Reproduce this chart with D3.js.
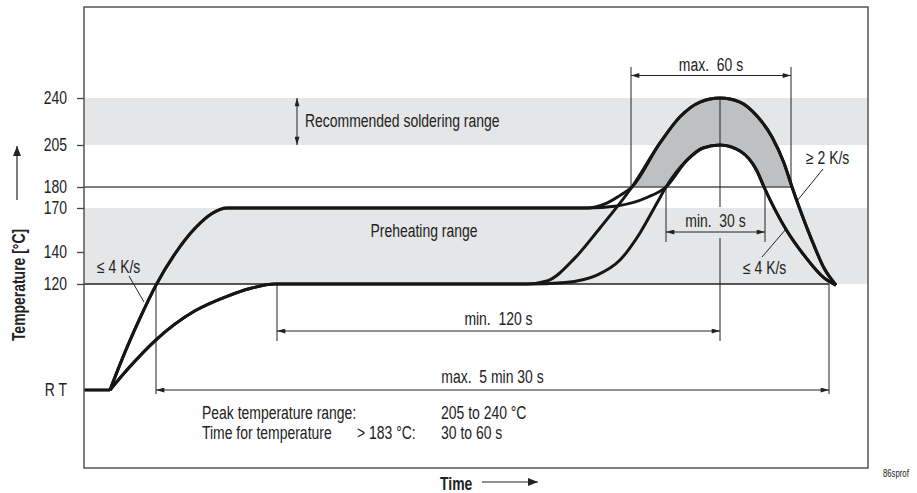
<!doctype html>
<html lang="en">
<head>
<meta charset="utf-8">
<title>Reflow soldering temperature profile</title>
<script src="https://cdn.jsdelivr.net/npm/d3@7"></script>
<style>
  body{margin:0;background:#fff;}
  svg text{font-family:"Liberation Sans",Arial,sans-serif;font-size:18px;fill:#222;white-space:pre;}
</style>
</head>
<body>
<svg id="chart" width="917" height="493"></svg>
<script>
// temperature ticks, RT (room temperature) sits at 25 °C
var yTicks = [25, 120, 140, 170, 180, 205, 240];
var yTickLabels = ["R T", "120", "140", "170", "180", "205", "240"];

// the drawing is a schematic: the temperature axis is not to scale,
// so the scale is piecewise between these stops
var yStops = [25, 120, 140, 170, 180, 205, 240];
var yStopPx = [390, 284, 252, 208, 187, 145, 98];

// bands [from, to] in °C
var recommendedBand = [205, 240];
var preheatBand = [120, 170];

// profile pieces, [time, °C]  (time in arbitrary units, schematic)
var roomStart    = [[0, 25], [13, 25]];
var riseTo170    = [[13, 25], [18, 48], [23, 69.5], [29.5, 95.3], [36, 119], [45.5, 138.9], [55.5, 156.2], [64, 166.3], [71.5, 170], [251.5, 170]];
var riseTo120    = [[13, 25], [23, 46], [36, 70], [55.5, 96], [71.5, 109], [83, 116], [95.5, 120], [221.5, 120]];
var from170to240 = [[260.5, 172], [268, 176], [274, 180]];
var from170to205 = [[266.5, 171], [281.5, 175], [291, 180]];
var from120to240 = [[231.5, 121.9], [245.5, 136.3], [258, 156.4], [266.5, 170.5], [274, 180]];
var from120to205 = [[240.5, 121], [256.5, 125.6], [268, 135], [278, 153], [286.5, 172.4], [291, 180]];
var peak240      = [[288, 206.5], [298, 226], [308, 237], [318, 240], [328, 237], [336.5, 226.6], [344, 211], [350, 194.3], [354, 180], [363.5, 149.5], [370, 130], [376, 119]];
var peak205      = [[301.5, 196], [309.5, 203.2], [318, 205], [328, 201.4], [336.5, 189.5], [340, 180], [351.5, 154.3], [360, 138], [370, 123.8], [376, 119]];

var profiles = [
  riseTo170.concat(from170to240, peak240),
  riseTo170.concat(from170to205, peak205),
  riseTo120.concat(from120to240, peak240),
  riseTo120.concat(from120to205, peak205)
];

var W = 917, H = 493;
var frame = {left: 84, top: 7, right: 868, bottom: 468};
var narrow = 0.775; // the original type is a condensed face

var x = d3.scaleLinear().domain([0, 392]).range([frame.left, frame.right]);
var y = d3.scaleLinear().domain(yStops).range(yStopPx);

var svg = d3.select("#chart");
var defs = svg.append("defs");

defs.append("marker")
    .attr("id", "arr")
    .attr("viewBox", "0 0 10 6")
    .attr("refX", 10).attr("refY", 3)
    .attr("markerWidth", 9).attr("markerHeight", 5)
    .attr("markerUnits", "userSpaceOnUse")
    .attr("orient", "auto-start-reverse")
  .append("path")
    .attr("d", "M0,0L10,3L0,6Z")
    .attr("fill", "#222");

defs.append("marker")
    .attr("id", "arrBig")
    .attr("viewBox", "0 0 10 8")
    .attr("refX", 10).attr("refY", 4)
    .attr("markerWidth", 10).attr("markerHeight", 8)
    .attr("markerUnits", "userSpaceOnUse")
    .attr("orient", "auto")
  .append("path")
    .attr("d", "M0,0L10,4L0,8Z")
    .attr("fill", "#222");

defs.append("clipPath").attr("id", "above180")
  .append("rect")
    .attr("x", frame.left).attr("y", 0)
    .attr("width", frame.right - frame.left)
    .attr("height", y(180));

// grey ranges
svg.selectAll(".band")
    .data([recommendedBand, preheatBand])
  .enter().append("rect")
    .attr("class", "band")
    .attr("x", frame.left)
    .attr("width", frame.right - frame.left)
    .attr("y", function(d){ return y(d[1]); })
    .attr("height", function(d){ return y(d[0]) - y(d[1]); })
    .attr("fill", "#e5e6e7");

// dark area between the two peaks, above 180 °C
var area = d3.area()
    .x(function(d){ return x(d[0]); })
    .y0(y(180))
    .y1(function(d){ return y(d[1]); })
    .curve(d3.curveMonotoneX);

svg.append("path")
    .attr("clip-path", "url(#above180)")
    .attr("d", area(profiles[0]))
    .attr("fill", "#bfc0c2");
svg.append("path")
    .attr("clip-path", "url(#above180)")
    .attr("d", area(profiles[1]))
    .attr("fill", "#fff");

// reference lines at 180 and 120
svg.append("line")
    .attr("x1", frame.left).attr("x2", x(353.5))
    .attr("y1", y(180)).attr("y2", y(180))
    .attr("stroke", "#555").attr("stroke-width", 1.3);
svg.append("line")
    .attr("x1", frame.left).attr("x2", x(372.5))
    .attr("y1", y(120)).attr("y2", y(120))
    .attr("stroke", "#222").attr("stroke-width", 1.3);

// dimension lines
var g = svg.append("g").attr("stroke", "#222").attr("stroke-width", 1).attr("fill", "none");

function vline(t, y1, y2) {
  g.append("line")
      .attr("x1", x(t)).attr("x2", x(t))
      .attr("y1", y1).attr("y2", y2);
}
function dimArrow(t0, t1, yy, label, ty) {
  g.append("line")
      .attr("x1", x(t0)).attr("x2", x(t1))
      .attr("y1", yy).attr("y2", yy)
      .attr("marker-start", "url(#arr)")
      .attr("marker-end", "url(#arr)");
  svg.append("text")
      .attr("x", (x(t0) + x(t1)) / 2)
      .attr("y", ty)
      .attr("text-anchor", "middle")
      .text(label);
}

// max. 60 s
vline(273.5, 67, y(180));
vline(353.5, 67, y(180));
dimArrow(273.5, 353.5, 75.5, "max.  60 s", 71);

// min. 30 s
vline(291, y(180), 242);
vline(340.5, y(180), 242);
dimArrow(291, 340.5, 232, "min.  30 s", 227);

// peak line, broken around the 30 s label
vline(318, y(240), 207);
vline(318, 238, 341);

// min. 120 s
vline(96.5, y(120), 341);
dimArrow(96.5, 318, 331, "min.  120 s", 325);

// max. 5 min 30 s
vline(36, y(120), 394);
vline(372.5, y(120), 394);
dimArrow(36, 372.5, 390, "max.  5 min 30 s", 383);

// recommended soldering range arrow
g.append("line")
    .attr("x1", 297).attr("x2", 297)
    .attr("y1", y(240)).attr("y2", y(205))
    .attr("marker-start", "url(#arr)")
    .attr("marker-end", "url(#arr)");

// slope leaders
g.append("line").attr("x1", 129).attr("y1", 276).attr("x2", 144).attr("y2", 302);
g.append("line").attr("x1", 823).attr("y1", 169).attr("x2", 797).attr("y2", 201);
g.append("line").attr("x1", 762).attr("y1", 257).attr("x2", 786).attr("y2", 229);

// the profile curves
var line = d3.line()
    .x(function(d){ return x(d[0]); })
    .y(function(d){ return y(d[1]); })
    .curve(d3.curveMonotoneX);

svg.append("path")
    .attr("d", d3.line().x(function(d){ return x(d[0]); }).y(function(d){ return y(d[1]); })(roomStart))
    .attr("fill", "none").attr("stroke", "#161616").attr("stroke-width", 3.2);

svg.selectAll(".profile")
    .data(profiles)
  .enter().append("path")
    .attr("class", "profile")
    .attr("d", line)
    .attr("fill", "none")
    .attr("stroke", "#161616")
    .attr("stroke-width", 3)
    .attr("stroke-linejoin", "round");

// frame
svg.append("rect")
    .attr("x", frame.left).attr("y", frame.top)
    .attr("width", frame.right - frame.left)
    .attr("height", frame.bottom - frame.top)
    .attr("fill", "none")
    .attr("stroke", "#555")
    .attr("stroke-width", 1.5);

// y axis
var yAxis = d3.axisLeft(y)
    .tickValues(yTicks)
    .tickFormat(function(d, i){ return yTickLabels[i]; })
    .tickSize(7)
    .tickPadding(10);

var ax = svg.append("g")
    .attr("transform", "translate(" + frame.left + ",0)")
    .call(yAxis);
ax.select(".domain").remove();
ax.selectAll(".tick line").attr("stroke", "#444").attr("stroke-width", 1.3)
    .filter(function(d){ return d === 25; }).remove();
ax.selectAll(".tick text")
    .attr("font-family", null).attr("font-size", null)
    .style("font-size", "18px").style("fill", "#222");

// labels
function label(txt, tx, ty, opts) {
  var t = svg.append("text").attr("x", tx).attr("y", ty).text(txt);
  if (opts && opts.anchor) t.attr("text-anchor", opts.anchor);
  if (opts && opts.bold) t.style("font-weight", "bold");
  if (opts && opts.size) t.style("font-size", opts.size);
  return t;
}

label("Recommended soldering range", 305, 127);
label("Preheating range", 424, 237, {anchor: "middle"});
label("\u2264 4 K/s", 97, 273);
label("\u2265 2 K/s", 806, 164);
label("\u2264 4 K/s", 743, 274);

label("Peak temperature range:", 202, 419);
label("205 to 240 \u00b0C", 441, 419);
label("Time for temperature", 202, 439);
label("> 183 \u00b0C:", 357, 439);
label("30 to 60 s", 441, 439);

label("86sprof", 883, 477, {size: "10px"});

// axis titles
label("Time", 440, 490, {bold: true});
svg.append("line")
    .attr("x1", 482).attr("x2", 538)
    .attr("y1", 482).attr("y2", 482)
    .attr("stroke", "#222").attr("stroke-width", 1.2)
    .attr("marker-end", "url(#arrBig)");

svg.append("text")
    .attr("x", 25).attr("y", 285)
    .attr("data-rot", -90)
    .attr("text-anchor", "middle")
    .style("font-weight", "bold")
    .text("Temperature [\u00b0C]");
svg.append("line")
    .attr("x1", 17).attr("x2", 17)
    .attr("y1", 200).attr("y2", 146)
    .attr("stroke", "#222").attr("stroke-width", 1.2)
    .attr("marker-end", "url(#arrBig)");

// squeeze every label horizontally to the condensed width of the original face
svg.selectAll("text").each(function(){
  var t = d3.select(this);
  var tx = +t.attr("x") || 0, ty = +t.attr("y") || 0;
  var rot = t.attr("data-rot");
  t.attr("x", 0).attr("y", 0)
   .attr("transform", "translate(" + tx + "," + ty + ")" +
         (rot ? " rotate(" + rot + ")" : "") +
         " scale(" + narrow + ",1)");
});
</script>
</body>
</html>
